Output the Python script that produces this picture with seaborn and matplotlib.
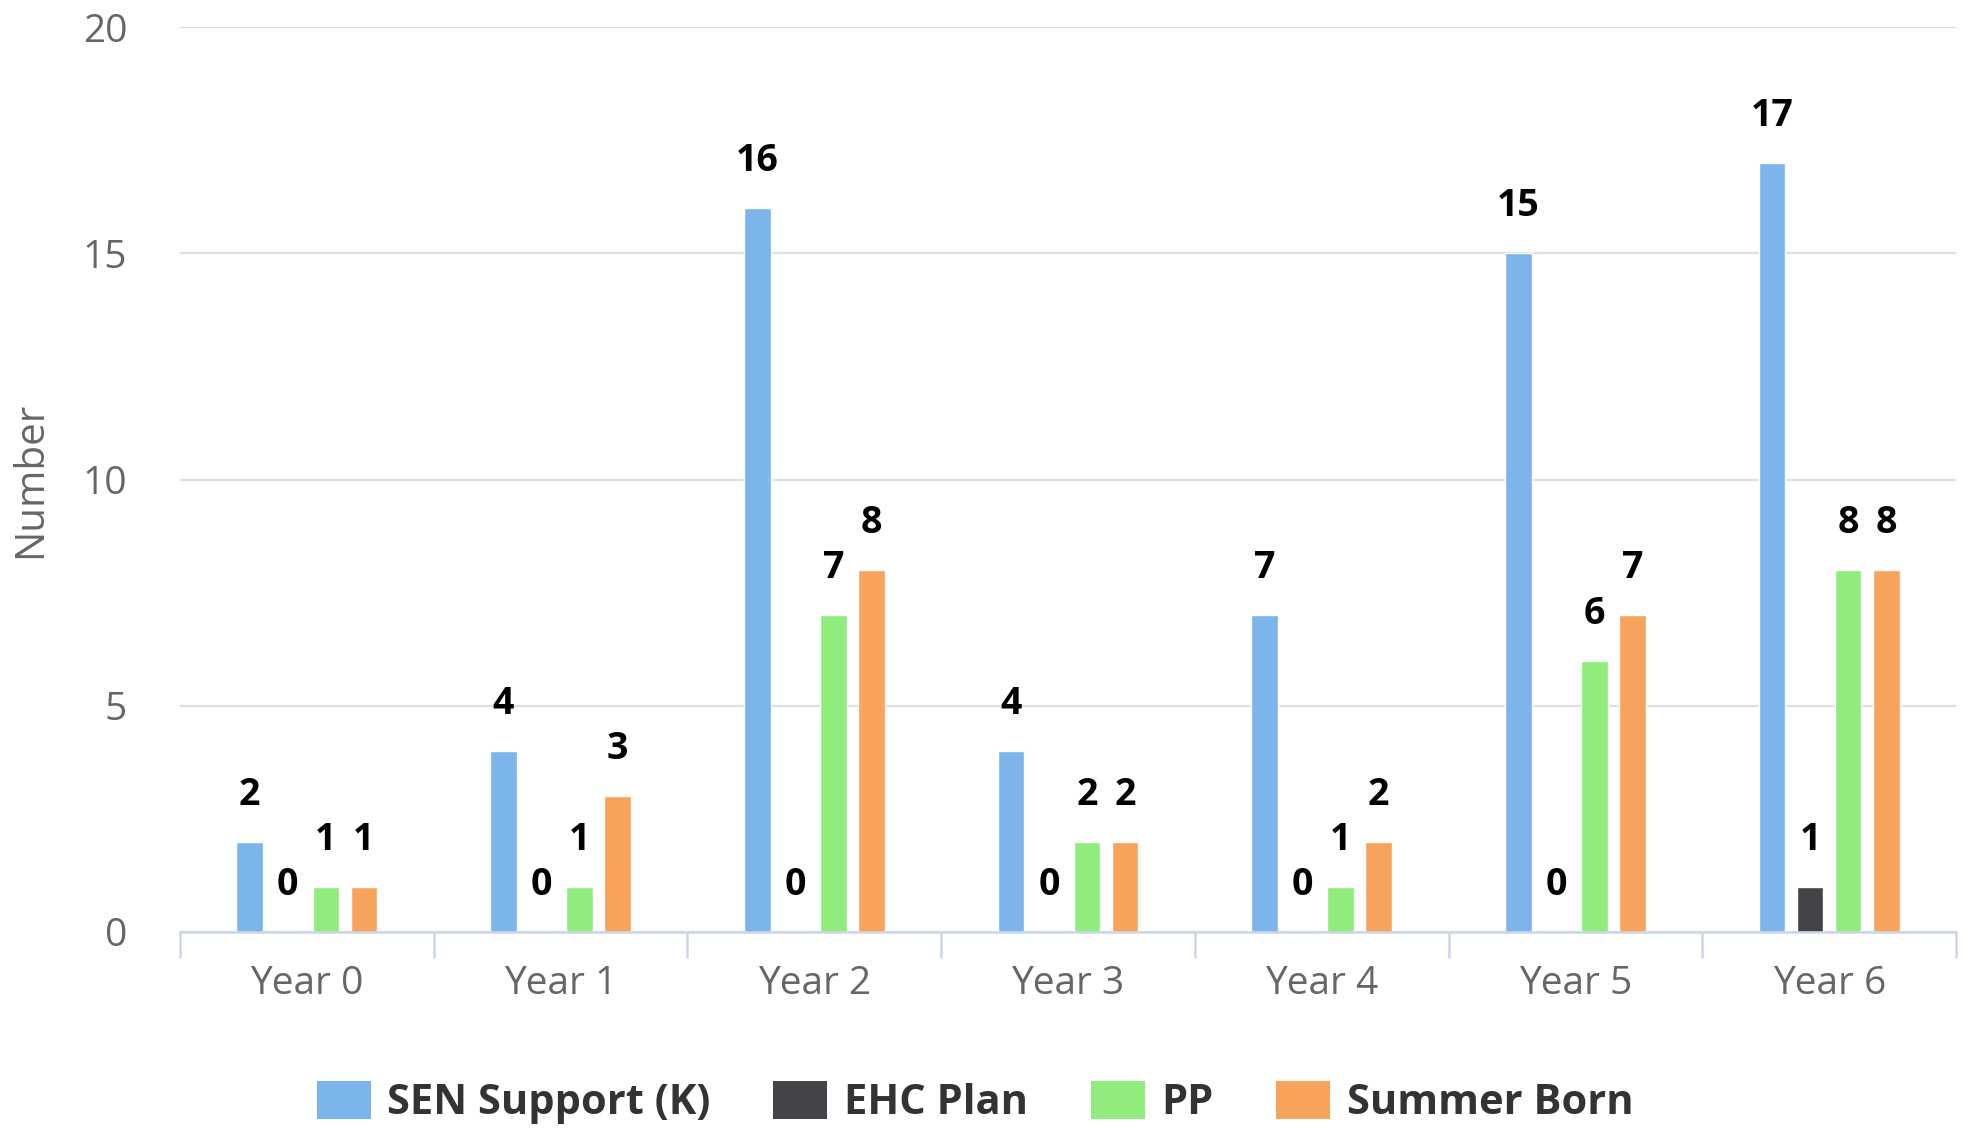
import matplotlib
matplotlib.use("Agg")
import matplotlib.pyplot as plt
import seaborn as sns
import pandas as pd
import numpy as np
from matplotlib.patches import Patch

years = ["Year 0", "Year 1", "Year 2", "Year 3", "Year 4", "Year 5", "Year 6"]
series_names = ["SEN Support (K)", "EHC Plan", "PP", "Summer Born"]
sen_support = [2, 4, 16, 4, 7, 15, 17]
ehc_plan = [0, 0, 0, 0, 0, 0, 1]
pp = [1, 1, 7, 2, 1, 6, 8]
summer_born = [1, 3, 8, 2, 2, 7, 8]
colors = ["#7cb5ec", "#434348", "#90ed7d", "#f7a35c"]
y_ticks = [0, 5, 10, 15, 20]

rows = []
for name, vals in zip(series_names, [sen_support, ehc_plan, pp, summer_born]):
    for yr, v in zip(years, vals):
        rows.append({"Year": yr, "Number": v, "Series": name})
df = pd.DataFrame(rows)

sns.set_style("white")
plt.rcParams["font.family"] = ["Open Sans", "DejaVu Sans"]

fig = plt.figure(figsize=(19.7, 11.31), dpi=100)
ax = fig.add_axes([180 / 1970, 1 - 932 / 1131, (1956 - 180) / 1970, (932 - 27) / 1131])

sns.barplot(data=df, x="Year", y="Number", hue="Series", order=years,
            hue_order=series_names, palette=colors, width=0.6, gap=0.3,
            dodge=True, saturation=1, ax=ax, legend=False, errorbar=None)

for cont in ax.containers:
    ax.bar_label(cont, labels=[f"{int(b.get_height())}" for b in cont],
                 padding=20, fontsize=27, fontweight="bold", color="#000000")

ax.set_xlim(-0.5, 6.5)
ax.set_ylim(0, 20)
ax.set_yticks(y_ticks)
ax.yaxis.grid(True, color="#e0e0e0", linewidth=1.6)
ax.set_axisbelow(True)
for s in ["top", "right", "left"]:
    ax.spines[s].set_visible(False)
ax.spines["bottom"].set_color("#ccd6eb")
ax.spines["bottom"].set_linewidth(1.8)

ax.tick_params(axis="y", left=False, length=0, pad=38, labelsize=28, labelcolor="#666666")
ax.tick_params(axis="x", which="major", bottom=False, length=0, pad=24, labelsize=28, labelcolor="#666666")
ax.set_xticks(np.arange(-0.5, 7.0, 1.0), minor=True)
ax.tick_params(axis="x", which="minor", bottom=True, length=19, width=1.8,
               color="#ccd6eb", direction="out")

ax.set_xlabel("")
ax.set_ylabel("Number", fontsize=29, color="#666666")
ax.yaxis.set_label_coords(-0.0725, 0.5)

handles = [Patch(facecolor=c, edgecolor="none") for c in colors]
leg = fig.legend(handles, series_names, loc="center", bbox_to_anchor=(0.495, 0.025),
                 ncol=4, frameon=False, handlelength=1.3, handleheight=1.0,
                 handletextpad=0.4, columnspacing=1.5,
                 prop={"family": "Open Sans", "size": 30, "weight": "bold"})
for t in leg.get_texts():
    t.set_color("#333333")

fig.savefig("out.png", dpi=100)
